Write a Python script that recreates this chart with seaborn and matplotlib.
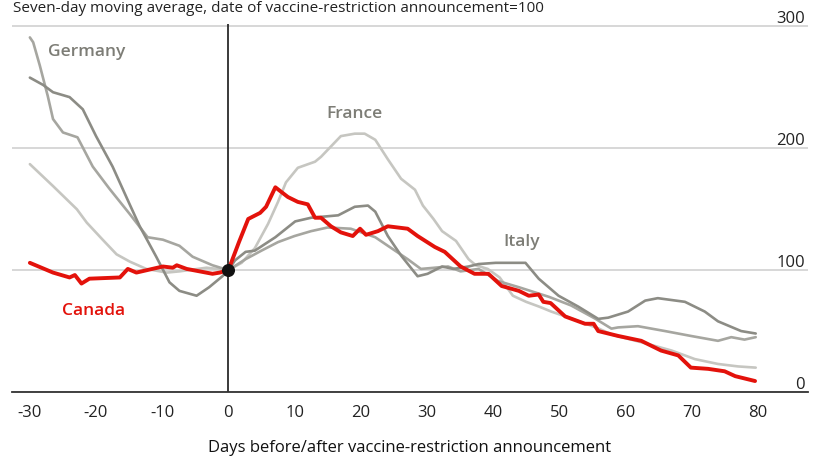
import matplotlib
matplotlib.use('Agg')
import matplotlib.pyplot as plt
import seaborn as sns
import pandas as pd

# --- dados (índice, dia do anúncio = 100) ---
canada_days = [-30, -26.5, -24, -23.2, -22.2, -21, -16.4, -15.2, -13.9, -9.9, -8.4, -7.8, -6.3, -2.4, -1.3, 0,
               1.6, 3, 4.8, 5.7, 7.1, 9, 10.5, 12, 13.1, 14, 15.5, 17, 18.8, 19.9, 20.8, 22.6, 24.1, 27.1, 28.6,
               31.2, 32.7, 35.1, 37.2, 39.3, 41.3, 43.9, 45.4, 46.9, 47.6, 48.7, 50.9, 53.9, 55.2, 55.9, 58.9,
               62.4, 65.4, 68, 69.9, 72.5, 75, 76.6, 79.6]
canada_vals = [106, 98, 94, 96, 89, 93, 94, 101, 98, 103, 102, 104, 101, 97, 98, 100,
               123, 142, 147, 152, 168, 160, 156, 154, 143, 143, 136, 131, 128, 134, 129, 132, 136, 134, 128,
               119, 115, 103, 97, 97, 87, 83, 79, 80, 74, 73, 62, 56, 56, 50, 46,
               42, 34, 30, 20, 19, 17, 13, 9]

italy_days = [-30, -28, -26.5, -24, -22, -20, -17.5, -15, -13.4, -10.9, -8.9, -7.4, -4.8, -2.9, -0.9, 0,
              1, 2.6, 4, 7.1, 10.1, 12.5, 16.6, 19.1, 21.1, 22.2, 24.1, 26.1, 28.6, 30.1, 32.3, 34, 36.3,
              37.8, 40.4, 44.9, 46.9, 49.9, 52.9, 55.9, 57.4, 60.4, 63, 64.9, 69, 72, 74, 77.5, 79.7]
italy_vals = [258, 252, 246, 242, 232, 210, 185, 155, 136, 111, 90, 83, 79, 86, 95, 100,
              108, 115, 116, 127, 140, 143, 145, 152, 153, 148, 128, 112, 95, 97, 103, 101, 103,
              105, 106, 106, 93, 79, 70, 60, 61, 66, 75, 77, 74, 66, 58, 50, 48]

germany_days = [-30, -29.5, -28.5, -27.3, -26.5, -25, -22.8, -20.5, -18, -14.9, -12.2, -9.9, -7.4, -5.4, -2.4, 0,
                2.6, 5, 7.5, 10, 12.5, 15, 18.5, 22.2, 24.1, 27.1, 29.1, 31.2, 33.2, 35.1, 37.8, 40.8, 43.9,
                48.5, 51.8, 55.5, 57.9, 58.9, 61.9, 66, 69.9, 74, 76, 78, 79.7]
germany_vals = [291, 287, 268, 243, 224, 213, 209, 185, 167, 146, 127, 125, 120, 111, 104, 100,
                109, 116, 123, 128, 132, 135, 134, 127, 120, 109, 101, 102, 103, 99, 101, 91, 86,
                78, 71, 60, 52, 53, 54, 50, 46, 42, 45, 43, 45]

france_days = [-30, -26.5, -22.9, -21.4, -19, -16.9, -14.9, -12.4, -9.3, -7.4, -3.3, 0,
               2, 4, 6, 7.5, 8.7, 10.5, 13.1, 14, 17, 19.1, 20.6, 22.2, 24.1, 26.1, 28.2, 29.4, 31, 32.3,
               34.4, 36.3, 37.4, 39.2, 41, 43, 45, 47, 48.8, 52, 56, 58, 63, 67, 70.5, 74, 77, 79.7]
france_vals = [187, 169, 150, 139, 125, 113, 107, 101, 98, 99, 102, 100,
               106, 118, 138, 156, 172, 184, 189, 193, 210, 212, 212, 207, 191, 175, 166, 153, 142, 132,
               124, 109, 104, 101, 94, 79, 74, 70, 66, 60, 52, 47, 40, 34, 27, 23, 21, 20]

countries = ['France', 'Germany', 'Italy', 'Canada']
y_ticks = [0, 100, 200, 300]
x_ticks = list(range(-30, 81, 10))
announce_day = 0
base_index = 100

titulo = 'Seven-day moving average, date of vaccine-restriction announcement=100'
label_x = 'Days before/after vaccine-restriction announcement'

# --- estilo ---
RED = '#e3120b'
cores = {'France': '#c6c6c1', 'Germany': '#a6a6a0', 'Italy': '#8c8c85', 'Canada': RED}
larguras = {'France': 1.9, 'Germany': 1.9, 'Italy': 1.9, 'Canada': 2.8}
rotulos = {
    'Germany': (-27.3, 280),
    'France': (14.8, 229),
    'Italy': (41.6, 124),
    'Canada': (-25.2, 67),
}

sns.set_style('white')
plt.rcParams['font.family'] = ['Open Sans', 'DejaVu Sans']
plt.rcParams['axes.unicode_minus'] = False

df = pd.concat([
    pd.DataFrame({'day': france_days, 'value': france_vals, 'country': 'France'}),
    pd.DataFrame({'day': germany_days, 'value': germany_vals, 'country': 'Germany'}),
    pd.DataFrame({'day': italy_days, 'value': italy_vals, 'country': 'Italy'}),
    pd.DataFrame({'day': canada_days, 'value': canada_vals, 'country': 'Canada'}),
], ignore_index=True)

fig, ax = plt.subplots(figsize=(8.19, 4.6), dpi=100)
fig.subplots_adjust(left=12 / 819, right=808 / 819, bottom=1 - 393 / 460, top=1 - 25 / 460)

sns.lineplot(data=df, x='day', y='value', hue='country', hue_order=countries,
             size='country', size_order=countries, sizes=larguras,
             palette=cores, legend=False, ax=ax, zorder=3)

ax.axvline(announce_day, color='#2b2b2b', lw=1.3, zorder=2)
ax.scatter([announce_day], [base_index], s=70, color='#111111', zorder=5)

ax.set_xlim(-32.7, 87.6)
ax.set_ylim(0, 302)

# eixo x
ax.set_xticks(x_ticks)
ax.set_xticklabels([str(t) for t in x_ticks])
ax.tick_params(axis='x', direction='out', length=5, width=1.2, color='#333333',
               labelsize=12, labelcolor='#222222', pad=4)
ax.set_xlabel(label_x, fontsize=12, color='#111111', va='center')
ax.xaxis.set_label_coords(0.5, -0.149)

# eixo y: rótulos à direita, por cima das linhas de grade
ax.set_yticks(y_ticks)
ax.set_yticklabels([str(t) for t in y_ticks])
ax.yaxis.tick_right()
ax.tick_params(axis='y', length=0, labelsize=12, labelcolor='#222222', pad=-2)
for lbl in ax.get_yticklabels():
    lbl.set_ha('right')
    lbl.set_va('bottom')
ax.set_ylabel('')
ax.grid(axis='y', color='#d4d4d4', lw=1.3)
ax.set_axisbelow(True)

for lado in ['left', 'right', 'top']:
    ax.spines[lado].set_visible(False)
ax.spines['bottom'].set_color('#333333')
ax.spines['bottom'].set_linewidth(1.3)

# rótulos dos países
for pais, (xx, yy) in rotulos.items():
    cor = RED if pais == 'Canada' else '#7d7d76'
    ax.text(xx, yy, pais, color=cor, fontsize=12.5, fontweight='semibold',
            ha='left', va='center', zorder=6)

# subtítulo no topo (inteiro, sem cortar)
fig.text(13 / 819, 1 - 1 / 460, titulo, fontsize=11, color='#222222', ha='left', va='top')

fig.savefig('out.png', dpi=100)
plt.close('all')
